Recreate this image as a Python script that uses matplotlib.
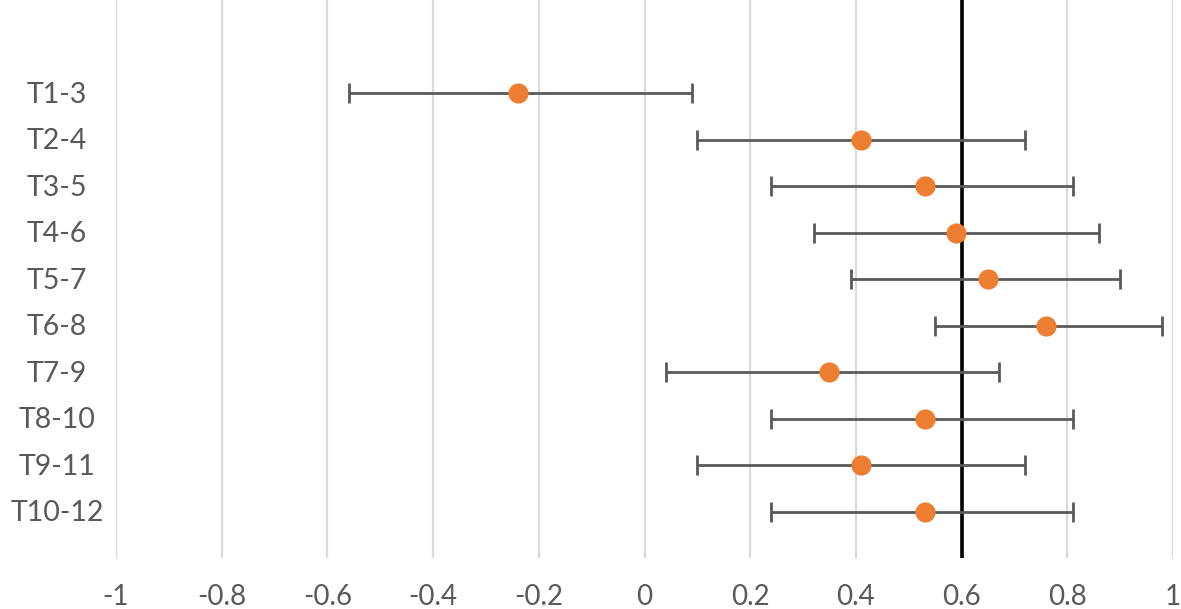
import matplotlib
matplotlib.use("Agg")
import matplotlib.pyplot as plt
import matplotlib.transforms as mtransforms
import numpy as np

categories = ["T1-3", "T2-4", "T3-5", "T4-6", "T5-7", "T6-8", "T7-9", "T8-10", "T9-11", "T10-12"]
estimates = [-0.24, 0.41, 0.53, 0.59, 0.65, 0.76, 0.35, 0.53, 0.41, 0.53]
lower = [-0.56, 0.10, 0.24, 0.32, 0.39, 0.55, 0.04, 0.24, 0.10, 0.24]
upper = [0.09, 0.72, 0.81, 0.86, 0.90, 0.98, 0.67, 0.81, 0.72, 0.81]
reference_value = 0.6
x_ticks = [-1, -0.8, -0.6, -0.4, -0.2, 0, 0.2, 0.4, 0.6, 0.8, 1]
x_tick_labels = ["-1", "-0.8", "-0.6", "-0.4", "-0.2", "0", "0.2", "0.4", "0.6", "0.8", "1"]

plt.rcParams['font.family'] = ['Lato', 'DejaVu Sans']

fig = plt.figure(figsize=(11.81, 6.09), dpi=100)
ax = fig.add_axes([116/1181, 51/609, (1173-116)/1181, 558/609])

n = len(categories)
ypos = np.arange(n, 0, -1)  # T1-3 at top

est = np.array(estimates)
lo = est - np.array(lower)
hi = np.array(upper) - est

for xt in x_ticks:
    ax.axvline(xt, color="#D9D9D9", lw=1.6, zorder=0)
ax.axvline(reference_value, color="black", lw=2.6, zorder=1)

ax.errorbar(est, ypos, xerr=[lo, hi], fmt='none', ecolor="#595959",
            elinewidth=2.0, capsize=7, capthick=2.0, zorder=2)
ax.plot(est, ypos, 'o', color="#ED7D31", markersize=14.5, markeredgewidth=0, zorder=3)

ax.set_xlim(-1, 1)
ax.set_ylim(0, 12)
ax.set_xticks(x_ticks)
ax.set_xticklabels(x_tick_labels)
ax.set_yticks([])
for s in ax.spines.values():
    s.set_visible(False)
ax.tick_params(axis='x', length=0, pad=19, labelsize=20, labelcolor="#595959")

# centered category labels
trans = mtransforms.blended_transform_factory(fig.transFigure, ax.transData)
for cat, y in zip(categories, ypos):
    ax.text(57/1181, y - 0.04, cat, transform=trans,
            ha='center', va='center', fontsize=20.5, color="#595959")

fig.savefig("out.png", dpi=100)
